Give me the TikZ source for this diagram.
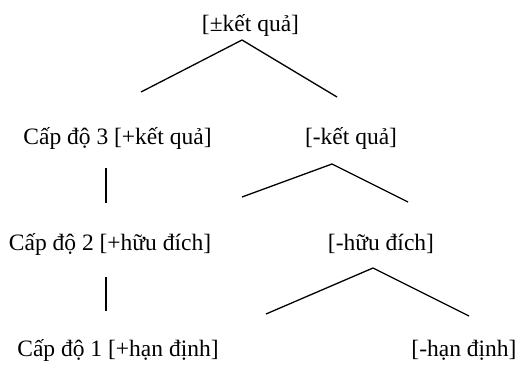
\documentclass[tikz,border=0pt]{standalone}
\usepackage{fontspec}
\setmainfont{Liberation Serif}
\begin{document}
\begin{tikzpicture}[x=1pt,y=-1pt,
  lbl/.style={inner sep=0pt,anchor=base,font=\fontsize{23.5}{28}\selectfont},
  branch/.style={line width=1.3pt,black}]
\useasboundingbox[fill=white] (0,0) rectangle (522,367);
% labels
\node[lbl] (top) at (250.5,31) {[±kết quả]};
\node[lbl] (l3) at (117.5,144) {Cấp độ 3 [+kết quả]};
\node[lbl] (r3) at (351,144) {[-kết quả]};
\node[lbl] (l2) at (110,250) {Cấp độ 2 [+hữu đích]};
\node[lbl] (r2) at (381,250) {[-hữu đích]};
\node[lbl] (l1) at (118,356) {Cấp độ 1 [+hạn định]};
\node[lbl] (r1) at (464,356) {[-hạn định]};
% branch points
\coordinate (a1) at (242,40);
\coordinate (a1l) at (141,92);
\coordinate (a1r) at (337,97);
\coordinate (a2) at (332,164);
\coordinate (a2l) at (242,197);
\coordinate (a2r) at (408,202);
\coordinate (a3) at (373,268);
\coordinate (a3l) at (266,314);
\coordinate (a3r) at (469,316);
\coordinate (v1t) at (106,168);
\coordinate (v1b) at (106,203);
\coordinate (v2t) at (106,277);
\coordinate (v2b) at (106,311);
% connectors
\draw[branch] (a1l) -- (a1) -- (a1r);
\draw[branch] (a2l) -- (a2) -- (a2r);
\draw[branch] (a3l) -- (a3) -- (a3r);
\draw[branch] (v1t) -- (v1b);
\draw[branch] (v2t) -- (v2b);
\end{tikzpicture}
\end{document}
